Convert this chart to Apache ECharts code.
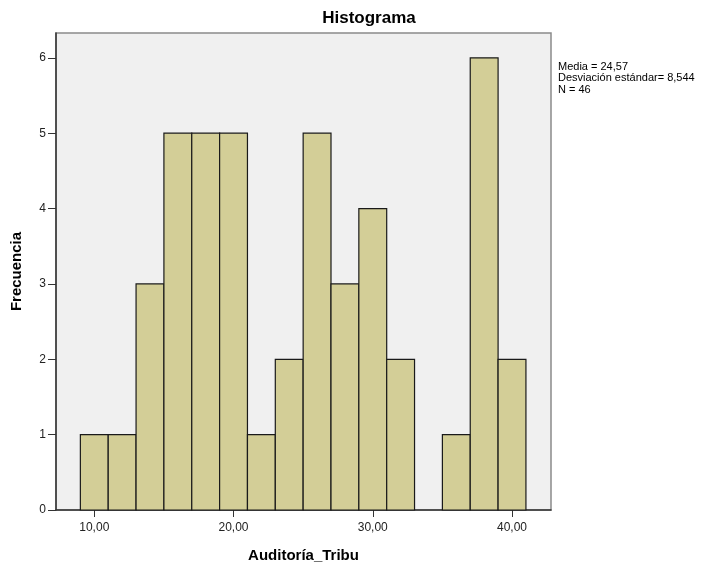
<!DOCTYPE html>
<html>
<head>
<meta charset="utf-8">
<script src="https://cdn.jsdelivr.net/npm/echarts@6/dist/echarts.min.js"></script>
<style>
html,body{margin:0;padding:0;background:#fff;}
#chart{width:721px;height:568px;}
</style>
</head>
<body>
<div id="chart"></div>
<script>
// Histogram data
var binStarts = [9, 11, 13, 15, 17, 19, 21, 23, 25, 27, 29, 31, 33, 35, 37, 39];
var binWidth = 2;
var counts = [1, 1, 3, 5, 5, 5, 1, 2, 5, 3, 4, 2, 0, 1, 6, 2];
var xTickValues = [10, 20, 30, 40];
var yTickValues = [0, 1, 2, 3, 4, 5, 6];
var titleText = 'Histograma';
var xAxisTitle = 'Auditoría_Tribu';
var yAxisTitle = 'Frecuencia';
var statsLines = ['Media = 24,57', 'Desviación estándar= 8,544', 'N = 46'];

var data = binStarts.map(function (s, i) { return [s, s + binWidth, counts[i]]; });

var chart = echarts.init(document.getElementById('chart'), null, {renderer: 'canvas'});
var font = '"Liberation Sans", Arial, sans-serif';

chart.setOption({
  animation: false,
  backgroundColor: '#ffffff',
  title: {
    text: titleText,
    left: 364, top: 5, textAlign: 'center',
    textStyle: {fontFamily: font, fontSize: 17, fontWeight: 'bold', color: '#000'}
  },
  graphic: [{
    type: 'text', left: 558, top: 61,
    style: {text: statsLines.join('\n'), font: '11px ' + font, fill: '#000', lineHeight: 11.5}
  }],
  grid: {
    left: 56, top: 33, width: 495, height: 480,
    show: true, backgroundColor: '#f0f0f0', borderColor: '#8a8a8a', borderWidth: 1.5
  },
  xAxis: {
    type: 'value', min: 7.25, max: 42.8,
    name: xAxisTitle, nameLocation: 'middle', nameGap: 38,
    nameTextStyle: {fontFamily: font, fontSize: 15, fontWeight: 'bold', color: '#000'},
    axisLine: {show: true, onZero: false, lineStyle: {color: '#333', width: 1.5}},
    axisTick: {show: true, length: 7, customValues: xTickValues, lineStyle: {color: '#333'}},
    axisLabel: {
      customValues: xTickValues, margin: 12,
      fontFamily: font, fontSize: 12, color: '#222',
      formatter: function (v) { return v.toFixed(2).replace('.', ','); }
    },
    splitLine: {show: false}
  },
  yAxis: {
    type: 'value', min: 0, max: 6.33,
    name: yAxisTitle, nameLocation: 'middle', nameGap: 32, nameRotate: 90,
    nameTextStyle: {fontFamily: font, fontSize: 15, fontWeight: 'bold', color: '#000'},
    axisLine: {show: true, lineStyle: {color: '#333', width: 1.5}},
    axisTick: {show: true, length: 8, customValues: yTickValues, lineStyle: {color: '#333'}},
    axisLabel: {customValues: yTickValues, margin: 10, fontFamily: font, fontSize: 12, color: '#222'},
    splitLine: {show: false}
  },
  series: [{
    type: 'custom',
    data: data,
    encode: {x: [0, 1], y: 2},
    renderItem: function (params, api) {
      var c = api.value(2);
      if (!c) return null;
      var p0 = api.coord([api.value(0), 0]);
      var p1 = api.coord([api.value(1), c]);
      return {
        type: 'rect',
        shape: {x: p0[0], y: p1[1], width: p1[0] - p0[0], height: p0[1] - p1[1]},
        style: {fill: '#d3ce97', stroke: '#1a1a1a', lineWidth: 1.2}
      };
    }
  }]
});
</script>
</body>
</html>
